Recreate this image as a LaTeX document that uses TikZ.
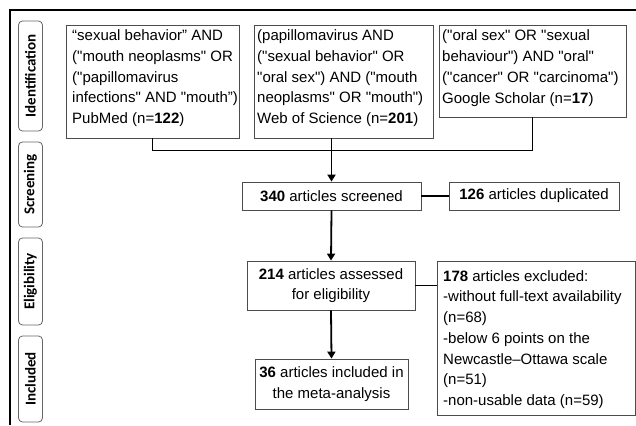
\documentclass[tikz,border=0pt]{standalone}
\usepackage{fontspec}
\setmainfont{Liberation Sans}[Ligatures=ResetAll]
\newfontfamily\lblfont{Carlito}
\usetikzlibrary{arrows.meta}
\newcommand\fl{\rule{0pt}{11pt}}
\newcommand\qq{\XeTeXglyph\XeTeXcharglyph"0022\relax}
\begin{document}
\begin{tikzpicture}[x=1pt,y=-1pt,
  box/.style={draw=black!70, line width=0.8pt, inner sep=0pt, align=center,
    font=\fontsize{15}{20.7}\selectfont},
  txt/.style={inner sep=0pt, anchor=north west, align=left,
    font=\fontsize{15}{20.7}\selectfont},
  side/.style={draw=black!60, rounded corners=4pt, line width=0.8pt, inner sep=0pt,
    minimum height=24pt, rotate=90, font=\lblfont\bfseries\fontsize{15}{17}\selectfont},
  conn/.style={line width=1.8pt},
  arr/.style={conn, -{Triangle[length=7pt,width=8pt]}}]
\useasboundingbox (0,0) rectangle (636,425);
\coordinate (fa) at (10,425);
\coordinate (fb) at (10,10);
\coordinate (fc) at (636,10);
\draw[line width=2pt] (fa) -- (fb) -- (fc);
% side labels
\node[side, minimum width=110pt] (sid) at (30.5,76) {Identification};
\node[side, minimum width=85pt] (ssc) at (30.5,184.5) {Screening};
\node[side, minimum width=87pt] (sel) at (30.5,281.5) {Eligibility};
\node[side, minimum width=86pt] (sin) at (30.5,379) {Included};
% boxes
\node[box, minimum width=173pt, minimum height=113pt] (b1) at (152.5,81.5) {};
\node[box, minimum width=179pt, minimum height=113pt] (b2) at (343.5,81.5) {};
\node[box, minimum width=187pt, minimum height=92pt] (b3) at (532.5,71) {};
\node[box, minimum width=179pt, minimum height=28pt] (scr) at (331.5,196) {\textbf{340} articles screened};
\node[box, minimum width=170pt, minimum height=28pt] (dup) at (534,196) {\textbf{126} articles duplicated};
\node[box, minimum width=168pt, minimum height=49pt] (ass) at (331,285.5) {\textbf{214} articles assessed\\for eligibility};
\node[box, minimum width=198pt, minimum height=154pt] (exc) at (536,338) {};
\node[box, minimum width=153pt, minimum height=50pt] (inc) at (331.5,384) {\textbf{36} articles included in\\the meta-analysis};
% box texts
\node[txt] (t1) at (72,29.7) {\fl“sexual behavior” AND\\(\qq mouth neoplasms\qq{} OR\\(\qq papillomavirus\\infections\qq{} AND \qq mouth”)\\PubMed (n=\textbf{122})};
\node[txt] (t2) at (257,29.7) {\fl(papillomavirus AND\\(\qq sexual behavior\qq{} OR\\\qq oral sex\qq) AND (\qq mouth\\neoplasms\qq{} OR \qq mouth\qq)\\Web of Science (n=\textbf{201})};
\node[txt] (t3) at (442,29.7) {\fl(\qq oral sex\qq{} OR \qq sexual\\behaviour\qq) AND \qq oral\qq\\(\qq cancer\qq{} OR \qq carcinoma\qq)\\Google Scholar (n=\textbf{17})};
\node[txt] (t4) at (443,270) {\fl\textbf{178} articles excluded:\\-without full-text availability\\(n=68)\\-below 6 points on the\\Newcastle–Ottawa scale\\(n=51)\\-non-usable data (n=59)};
% connectors
\draw[conn] (b1.south) -- ++(0,12) -| (b3.south);
\draw[arr] (scr.north |- b2.south) -- (scr.north);
\draw[conn] (scr.east) -- (dup.west);
\draw[arr] (scr.south) -- (ass.north);
\draw[conn] (ass.east) -- (ass.east -| exc.west);
\draw[arr] (ass.south) -- (inc.north);
\end{tikzpicture}
\end{document}
